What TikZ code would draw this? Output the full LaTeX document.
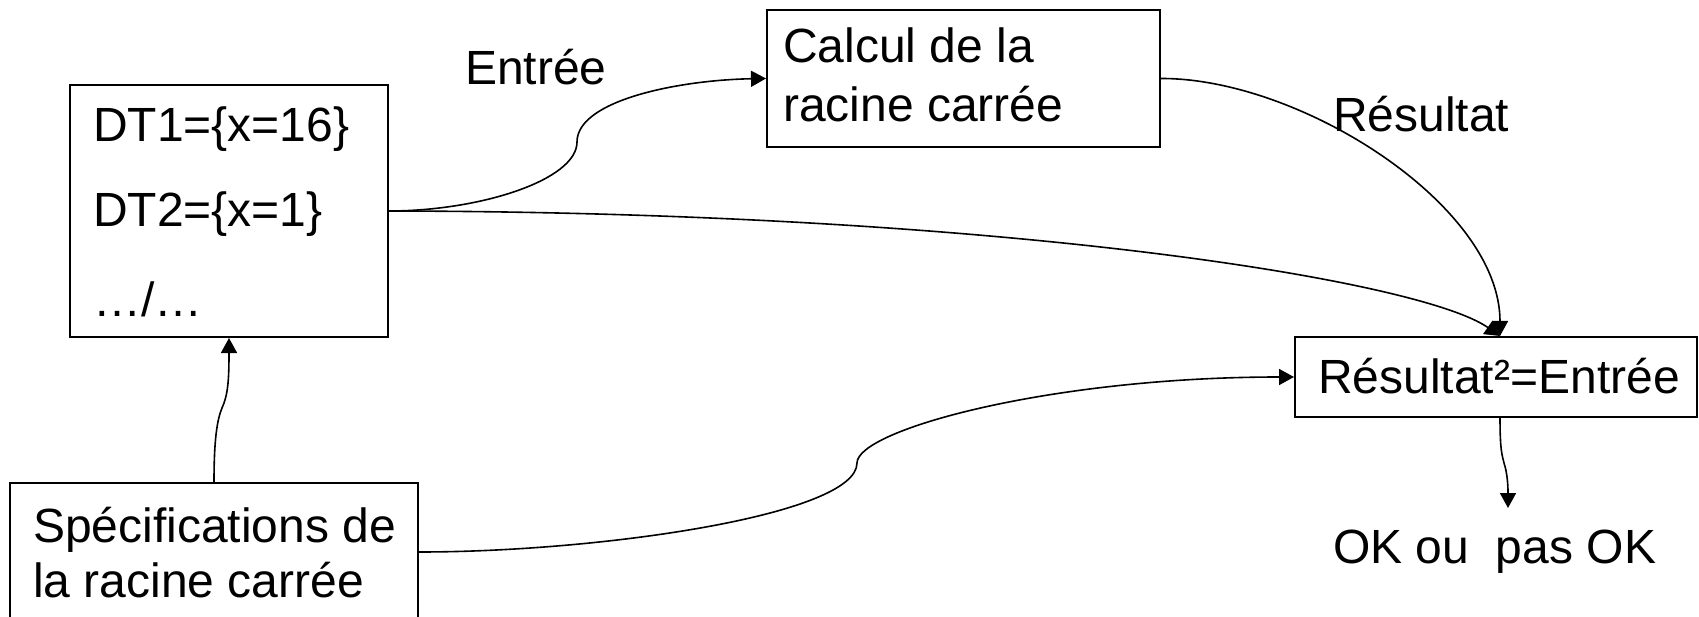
\documentclass[tikz,border=0pt]{standalone}
\usepackage{fontspec}
\setmainfont{Liberation Sans}
\usetikzlibrary{arrows.meta}
\begin{document}
\begin{tikzpicture}[x=1pt,y=-1pt,
  box/.style={draw=black,line width=2pt,inner sep=0pt},
  txt/.style={anchor=base west,inner sep=0pt,font=\fontsize{48}{57.6}\selectfont},
  conn/.style={line width=1.6pt,-{Triangle[length=15pt,width=16pt]}}
]
\useasboundingbox (0,0) rectangle (1699,617);
% boxes
\node[box,minimum width=318pt,minimum height=252pt] (dt) at (229,211) {};
\node[box,minimum width=393pt,minimum height=137pt] (calc) at (963.5,78.5) {};
\node[box,minimum width=408pt,minimum height=138pt] (spec) at (214,552) {};
\node[box,minimum width=402pt,minimum height=80pt] (res) at (1496,377) {};
% texts in boxes
\node[txt] (dt1) at (93,142) {DT1=\{x=16\}};
\node[txt] (dt2) at (93,227) {DT2=\{x=1\}};
\node[txt] (dt3) at (93,317) {…/…};
\node[txt] (calc1) at (783,63) {Calcul de la};
\node[txt] (calc2) at (783,122) {racine carrée};
\node[txt] (spec1) at (33,542) {Spécifications de};
\node[txt] (spec2) at (33,597) {la racine carrée};
\node[txt] (restxt) at (1318,393) {Résultat²=Entrée};
% free labels
\node[txt] (lentree) at (465,85) {Entrée};
\node[txt] (lresultat) at (1333,132) {Résultat};
\node[txt] (ok) at (1333,563) {OK ou\ \ pas OK};
\coordinate (okin) at (1508,508);
% connectors
\draw[conn] (dt.east) .. controls (480,211) and (577,180) .. (577,142)
  .. controls (577,100) and (680,80) .. (calc.west);
\draw[conn] (calc.east) .. controls (1300,78) and (1500,205) .. ([xshift=4pt]res.north);
\draw[conn] (dt.east) .. controls (1000,212) and (1420,280) .. ([xshift=4pt]res.north);
\draw[conn] (spec.east) .. controls (600,552) and (857,515) .. (857,463)
  .. controls (857,430) and (1050,377) .. (res.west);
\draw[conn] (spec.north) .. controls (214,440) and (217,420) .. (222,408)
  .. controls (228,395) and (229,380) .. (dt.south);
\draw[conn] ([xshift=4pt]res.south) .. controls (1500,450) and (1502,455) .. (1504,463)
  .. controls (1508,475) and (1508,490) .. (okin);
\end{tikzpicture}
\end{document}
